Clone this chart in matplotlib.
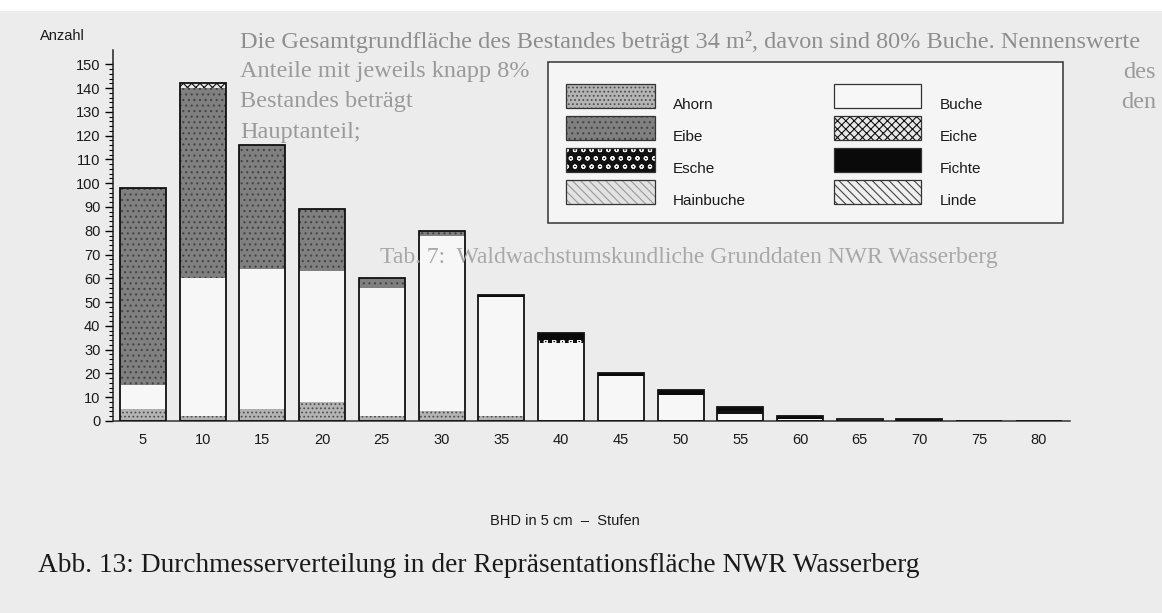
import matplotlib.pyplot as plt
import numpy as np
from matplotlib.patches import Rectangle

# BHD-Stufen (cm) und Stammzahlen je Baumart, von unten nach oben gestapelt
stufen = [5, 10, 15, 20, 25, 30, 35, 40, 45, 50, 55, 60, 65, 70, 75, 80]
ahorn = [5, 2, 5, 8, 2, 4, 2, 0, 0, 0, 0, 0, 0, 0, 0, 0]
buche = [10, 58, 59, 55, 54, 74, 50, 33, 19, 11, 3, 1, 1, 0, 0, 0]
eibe = [83, 80, 52, 26, 4, 2, 0, 0, 0, 0, 0, 0, 0, 0, 0, 0]
eiche = [0, 2, 0, 0, 0, 0, 0, 0, 0, 0, 0, 0, 0, 0, 0, 0]
esche = [0, 0, 0, 0, 0, 0, 0, 1, 0, 0, 1, 0, 0, 0, 0, 0]
fichte = [0, 0, 0, 0, 0, 0, 1, 3, 1, 2, 2, 1, 0, 1, 0, 0]
hainbuche = [0] * 16
linde = [0] * 16

arten = ['Ahorn', 'Buche', 'Eibe', 'Eiche', 'Esche', 'Fichte', 'Hainbuche', 'Linde']
werte = [ahorn, buche, eibe, eiche, esche, fichte, hainbuche, linde]

# Füllfarbe, Schraffur, Schraffurfarbe
stil = {
    'Ahorn': ('#b4b4b4', '....', '#505050'),
    'Buche': ('#f7f7f7', None, None),
    'Eibe': ('#808080', '...', '#444444'),
    'Eiche': ('#e8e8e8', 'xxxx', '#111111'),
    'Esche': ('#111111', 'oo', '#f0f0f0'),
    'Fichte': ('#0a0a0a', None, None),
    'Hainbuche': ('#e2e2e2', '\\\\\\\\', '#9a9a9a'),
    'Linde': ('#f0f0f0', '\\\\\\\\', '#444444'),
}

plt.rcParams['hatch.linewidth'] = 0.8
W, H = 1162, 613
fig = plt.figure(figsize=(W / 100, H / 100), dpi=100, facecolor='#ececec')


def fx(px):
    return px / W


def fy(py):
    return 1 - py / H


# weißer Rand oben (Scan)
fig.add_artist(Rectangle((0, fy(11)), 1, 11 / H, transform=fig.transFigure,
                         facecolor='white', edgecolor='none', zorder=0))

# durchscheinender Fließtext der Seite (teils von der Legende verdeckt)
serif = 'Liberation Serif'
fig.text(fx(240), fy(42),
         'Die Gesamtgrundfläche des Bestandes beträgt 34 m², davon sind 80% Buche. Nennenswerte',
         family=serif, fontsize=17.5, color='#8e8e8e', va='center', ha='left', zorder=0)
links = [(72, 'Anteile mit jeweils knapp 8%'), (102, 'Bestandes beträgt'), (132, 'Hauptanteil;')]
for py, t in links:
    fig.text(fx(240), fy(py), t, family=serif, fontsize=17.5, color='#9a9a9a',
             va='center', ha='left', zorder=0)
for py, t in [(72, 'des'), (102, 'den')]:
    fig.text(fx(1156), fy(py), t, family=serif, fontsize=17.5, color='#9a9a9a',
             va='center', ha='right', zorder=0)
fig.text(fx(380), fy(258), 'Tab. 7:  Waldwachstumskundliche Grunddaten NWR Wasserberg',
         family=serif, fontsize=17, color='#a8a8a8', va='center', ha='left', zorder=0)

ax = fig.add_axes([fx(113), fy(421), fx(1070) - fx(113), (421 - 50) / H])
ax.set_facecolor('none')

x = np.array(stufen)
breite = 3.85
boden = np.zeros(len(stufen))
for art, v in zip(arten, werte):
    v = np.array(v, dtype=float)
    fc, hatch, hc = stil[art]
    m = v > 0
    ax.bar(x[m], v[m], breite, bottom=boden[m], color=fc, edgecolor='none', zorder=2)
    if hatch:
        ax.bar(x[m], v[m], breite, bottom=boden[m], fill=False, hatch=hatch,
               edgecolor=hc, linewidth=0, zorder=3)
    boden = boden + v
# Umriss der ganzen Säulen
ax.bar(x, boden, breite, fill=False, edgecolor='#111111', linewidth=1.3, zorder=4)

ax.set_xlim(2.5, 82.6)
ax.set_ylim(0, 156)
ax.set_yticks(np.arange(0, 151, 10))
ax.set_yticks(np.arange(0, 151, 2), minor=True)
ax.set_xticks(stufen)
ax.set_xticklabels([str(s) for s in stufen])
ax.tick_params(axis='y', which='major', direction='out', length=6, width=1,
               pad=3, labelsize=10.5, labelcolor='#1a1a1a')
ax.tick_params(axis='y', which='minor', direction='out', length=3, width=0.8)
ax.tick_params(axis='x', length=0, pad=9, labelsize=10.5, labelcolor='#1a1a1a')
for lab in ax.get_xticklabels() + ax.get_yticklabels():
    lab.set_family('Liberation Sans')
for s in ['top', 'right']:
    ax.spines[s].set_visible(False)
ax.spines['left'].set_linewidth(1.1)
ax.spines['bottom'].set_linewidth(1.1)
ax.spines['left'].set_color('#222222')
ax.spines['bottom'].set_color('#333333')

fig.text(fx(40), fy(36), 'Anzahl', family='Liberation Sans', fontsize=10.5,
         color='#1a1a1a', va='center', ha='left')
fig.text(fx(565), fy(521), 'BHD in 5 cm  \u2013  Stufen', family='Liberation Sans',
         fontsize=10.5, color='#1a1a1a', va='center', ha='center')

# Legende
fig.add_artist(Rectangle((fx(548), fy(223)), (1063 - 548) / W, (223 - 62) / H,
                         transform=fig.transFigure, facecolor='#f5f5f5',
                         edgecolor='#333333', linewidth=1.1, zorder=5))
for i, art in enumerate(arten):
    col, row = i % 2, i // 2
    px0 = 566 if col == 0 else 834
    pw = 89 if col == 0 else 87
    top = 84 + row * 32
    fc, hatch, hc = stil[art]
    fig.add_artist(Rectangle((fx(px0), fy(top + 24)), pw / W, 24 / H,
                             transform=fig.transFigure, facecolor=fc,
                             edgecolor='none', zorder=6))
    if hatch:
        fig.add_artist(Rectangle((fx(px0), fy(top + 24)), pw / W, 24 / H,
                                 transform=fig.transFigure, fill=False, hatch=hatch,
                                 edgecolor=hc, linewidth=0, zorder=7))
    fig.add_artist(Rectangle((fx(px0), fy(top + 24)), pw / W, 24 / H,
                             transform=fig.transFigure, fill=False,
                             edgecolor='#333333', linewidth=0.9, zorder=8))
    fig.text(fx(673 if col == 0 else 940), fy(top + 21), art,
             family='Liberation Sans', fontsize=11, color='#1a1a1a',
             va='center', ha='left', zorder=9)

fig.text(fx(38), fy(566),
         'Abb. 13: Durchmesserverteilung in der Repräsentationsfläche NWR Wasserberg',
         family=serif, fontsize=19.7, color='#1a1a1a', va='center', ha='left')

fig.savefig('out.png', dpi=100, facecolor=fig.get_facecolor())
